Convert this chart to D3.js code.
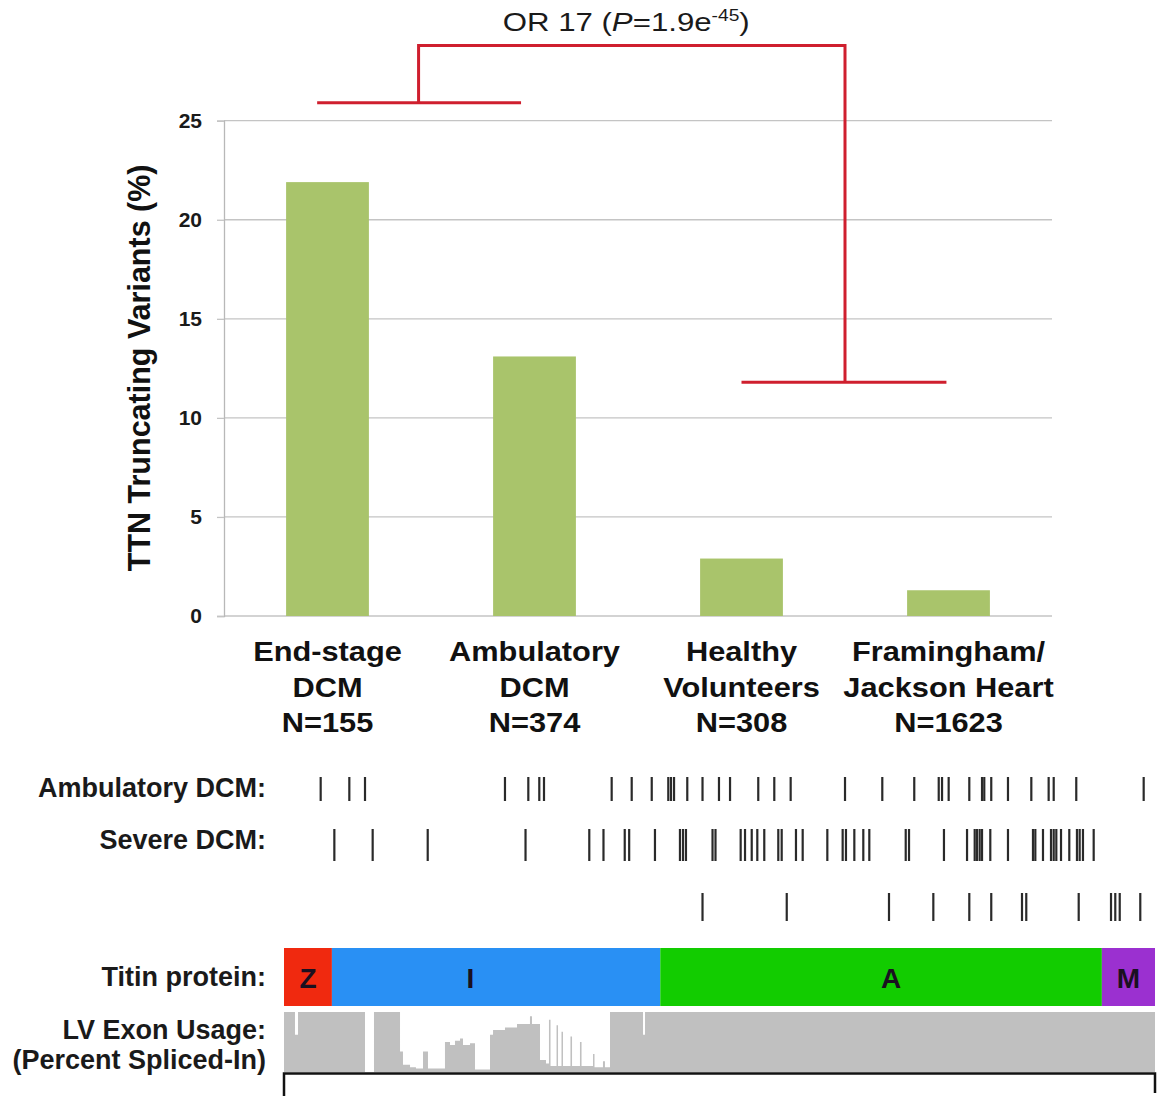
<!DOCTYPE html>
<html>
<head>
<meta charset="utf-8">
<script src="https://cdn.jsdelivr.net/npm/d3@7"></script>
<style>
body { margin: 0; background: #fff; }
svg { display: block; font-family: "Liberation Sans", Arial, Helvetica, sans-serif; }
</style>
</head>
<body>
<svg id="chart" width="1157" height="1098"></svg>
<script>
// bar chart data
var categories = ["End-stage DCM", "Ambulatory DCM", "Healthy Volunteers", "Framingham/Jackson Heart"];
var categoryLines = [["End-stage", "DCM", "N=155"], ["Ambulatory", "DCM", "N=374"],
                     ["Healthy", "Volunteers", "N=308"], ["Framingham/", "Jackson Heart", "N=1623"]];
var truncPct = [21.9, 13.1, 2.9, 1.3];
var yTicks = [0, 5, 10, 15, 20, 25];

// comparison bracket (category index units, % units)
var bracketFrom = [-0.05, 2.0];
var bracketTo = [0.935, 2.99];
var bracketLevel = [25.9, 11.8];
var bracketStem = [0.44, 2.5];
var bracketTop = 28.8;

// titin domains, % of protein length
var domainNames = ["Z", "I", "A", "M"];
var domainStart = [0, 5.5, 43.2, 93.9];
var domainEnd = [5.5, 43.2, 93.9, 100];
var domainLabelAt = [2.75, 21.4, 69.7, 96.95];
var domainColors = ["#f0290f", "#2990f4", "#12cc00", "#9b30d0"];

// truncating variant positions, % of protein length
var ambulatoryPos = [4.21, 7.50, 9.30, 25.37, 28.05, 29.31, 29.85, 37.62, 39.92, 42.22, 44.12, 44.43,
  44.78, 46.30, 48.05, 49.94, 51.21, 54.45, 56.29, 58.17, 64.41, 68.69, 72.36, 75.17, 75.55, 76.31,
  78.68, 80.14, 80.40, 81.20, 83.12, 85.80, 87.79, 88.37, 90.96, 98.70];
var severePos = [5.78, 10.18, 16.50, 27.73, 35.05, 36.68, 39.12, 39.63, 42.59, 45.46, 45.81, 46.15,
  49.20, 49.54, 52.43, 52.93, 53.70, 54.34, 55.14, 56.75, 57.14, 58.78, 59.55, 62.38, 64.14, 64.52,
  65.48, 66.51, 67.20, 71.38, 71.76, 75.77, 78.42, 79.30, 79.56, 79.87, 80.14, 81.09, 83.12, 85.99,
  86.26, 87.14, 88.06, 88.37, 88.67, 89.21, 90.16, 91.04, 91.35, 91.73, 92.96];
var controlPos = [48.05, 57.72, 69.46, 74.55, 78.68, 81.20, 84.73, 85.22, 91.24, 94.95, 95.44, 95.95, 98.31];

// LV exon usage (percent spliced-in), step profile
var exonPos = [0, 1.26, 1.61, 9.30, 10.33, 13.32, 13.66, 14.47, 15.15, 15.96, 16.53, 18.48, 19.06,
  19.63, 20.21, 20.55, 21.35, 21.93, 23.65, 24.00, 25.37, 26.75, 28.24, 28.47, 29.39, 30.08, 30.42,
  30.60, 31.29, 31.46, 31.86, 32.03, 32.89, 33.07, 33.98, 34.16, 35.48, 35.65, 36.62, 36.85, 37.43,
  41.22, 41.45, 100];
var exonPsi = [100, 62, 100, 0, 100, 34, 12, 8, 6, 34, 6, 50, 45,
  52, 56, 45, 48, 4, 62, 70, 74, 80, 93, 80, 20, 14, 87,
  10, 78, 10, 67, 10, 59, 10, 50, 10, 30, 8, 18, 8, 100,
  62, 100, 100];

var svg = d3.select("#chart");
var red = "#cf1f2e";

// ---- bar chart ----
var plotLeft = 224, plotRight = 1052, plotTop = 120.7, plotBottom = 616;
var x = d3.scaleBand().domain(categories).range([plotLeft, plotRight]).paddingInner(0.6).paddingOuter(0.3);
var xIdx = d3.scaleLinear().domain([-0.5, categories.length - 0.5]).range([plotLeft, plotRight]);
var y = d3.scaleLinear().domain([0, 25]).range([plotBottom, plotTop]);

svg.append("g").selectAll("line")
    .data(yTicks)
    .enter().append("line")
    .attr("x1", plotLeft).attr("x2", plotRight)
    .attr("y1", function (d) { return y(d); }).attr("y2", function (d) { return y(d); })
    .attr("stroke", "#c4c4c4").attr("stroke-width", 1.3);

var yAxis = svg.append("g")
    .attr("transform", "translate(" + plotLeft + ",0)")
    .call(d3.axisLeft(y).tickValues(yTicks).tickSize(7).tickPadding(15));
yAxis.select(".domain").attr("stroke", "#b8b8b8").attr("stroke-width", 1.3);
yAxis.selectAll(".tick line").attr("stroke", "#c4c4c4").attr("stroke-width", 1.3);
yAxis.selectAll(".tick text")
    .attr("font-family", "'Liberation Sans', Arial, sans-serif")
    .attr("font-size", 21).attr("font-weight", "bold").attr("fill", "#1a1a1a");

svg.append("g").selectAll("rect")
    .data(truncPct)
    .enter().append("rect")
    .attr("x", function (d, i) { return x(categories[i]); })
    .attr("width", x.bandwidth())
    .attr("y", function (d) { return y(d); })
    .attr("height", function (d) { return y(0) - y(d); })
    .attr("fill", "#a9c46b");

// category labels
var catG = svg.append("g");
categoryLines.forEach(function (lines, i) {
    var cx = x(categories[i]) + x.bandwidth() / 2;
    lines.forEach(function (t, j) {
        catG.append("text")
            .attr("transform", "translate(" + cx + "," + (661 + j * 35.7) + ") scale(1.14,1)")
            .attr("text-anchor", "middle")
            .attr("font-size", 27).attr("font-weight", "bold").attr("fill", "#111")
            .text(t);
    });
});

// y title
svg.append("text")
    .attr("transform", "translate(150," + ((plotTop + plotBottom) / 2 - 0.5) + ") rotate(-90)")
    .attr("text-anchor", "middle")
    .attr("font-size", 30.5).attr("font-weight", "bold").attr("fill", "#111")
    .text("TTN Truncating Variants (%)");

// bracket
var bg = svg.append("g").attr("fill", "none").attr("stroke", red).attr("stroke-width", 3);
bracketFrom.forEach(function (f, i) {
    bg.append("line")
        .attr("x1", xIdx(f)).attr("x2", xIdx(bracketTo[i]))
        .attr("y1", y(bracketLevel[i])).attr("y2", y(bracketLevel[i]));
});
bg.append("path")
    .attr("d", d3.line()([
        [xIdx(bracketStem[0]), y(bracketLevel[0])],
        [xIdx(bracketStem[0]), y(bracketTop)],
        [xIdx(bracketStem[1]), y(bracketTop)],
        [xIdx(bracketStem[1]), y(bracketLevel[1])]
    ]));

var title = svg.append("text")
    .attr("transform", "translate(" + xIdx((bracketStem[0] + bracketStem[1]) / 2 - 0.027) + ",31) scale(1.2,1)")
    .attr("text-anchor", "middle")
    .attr("font-size", 26).attr("fill", "#1a1a1a");
title.append("tspan").text("OR 17 (");
title.append("tspan").attr("font-style", "italic").text("P");
title.append("tspan").text("=1.9e");
title.append("tspan").attr("font-size", 16).attr("dy", -10).text("-45");
title.append("tspan").attr("dy", 10).text(")");

// ---- titin panel ----
var pos = d3.scaleLinear().domain([0, 100]).range([284, 1155]);

function label(txt, yy) {
    svg.append("text")
        .attr("x", 266).attr("y", yy)
        .attr("text-anchor", "end")
        .attr("font-size", 27).attr("font-weight", "bold").attr("fill", "#1a1a1a")
        .text(txt);
}
label("Ambulatory DCM:", 797);
label("Severe DCM:", 849);
label("Titin protein:", 986);
label("LV Exon Usage:", 1039);
label("(Percent Spliced-In)", 1069);

function tickRow(data, y0, y1) {
    svg.append("g").selectAll("line")
        .data(data)
        .enter().append("line")
        .attr("x1", function (d) { return pos(d); }).attr("x2", function (d) { return pos(d); })
        .attr("y1", y0).attr("y2", y1)
        .attr("stroke", "#2a2a2a").attr("stroke-width", 2.2);
}
tickRow(ambulatoryPos, 777, 801);
tickRow(severePos, 829, 861);
tickRow(controlPos, 893, 921);

var dom = svg.append("g");
dom.selectAll("rect")
    .data(domainNames)
    .enter().append("rect")
    .attr("x", function (d, i) { return pos(domainStart[i]); })
    .attr("width", function (d, i) { return pos(domainEnd[i]) - pos(domainStart[i]); })
    .attr("y", 948).attr("height", 58)
    .attr("fill", function (d, i) { return domainColors[i]; });
dom.selectAll("text")
    .data(domainNames)
    .enter().append("text")
    .attr("x", function (d, i) { return pos(domainLabelAt[i]); })
    .attr("y", 988)
    .attr("text-anchor", "middle")
    .attr("font-size", 28).attr("font-weight", "bold").attr("fill", "#1a1020")
    .text(function (d) { return d; });

var psi = d3.scaleLinear().domain([0, 100]).range([1072, 1012]);
var exonData = exonPos.map(function (p, i) { return [p, exonPsi[i]]; });
svg.append("path")
    .datum(exonData)
    .attr("d", d3.area()
        .curve(d3.curveStepAfter)
        .x(function (d) { return pos(d[0]); })
        .y0(psi(0))
        .y1(function (d) { return psi(d[1]); }))
    .attr("fill", "#c0c0c0");

svg.append("path")
    .attr("d", d3.line()([[pos(0), 1096], [pos(0), 1073.5], [pos(100), 1073.5], [pos(100), 1093]]))
    .attr("fill", "none").attr("stroke", "#111").attr("stroke-width", 2.5);
</script>
</body>
</html>
